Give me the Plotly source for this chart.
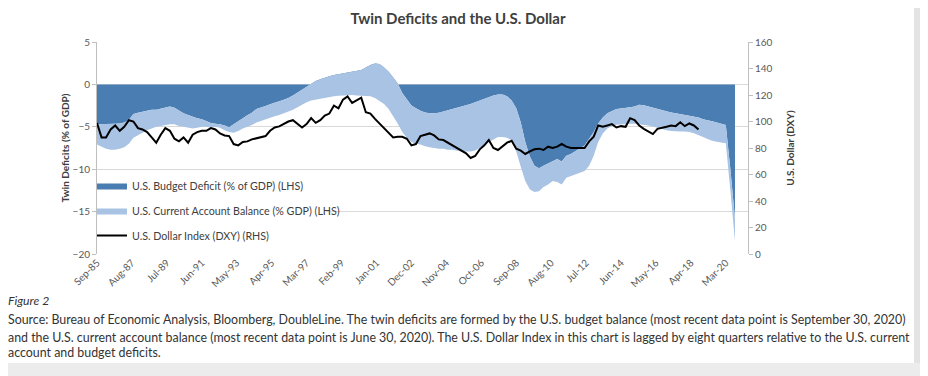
import pandas as pd
import plotly.graph_objects as go

# ---------------- data (quarterly, starting Sep-85) ----------------
start_quarter = "1985-09-01"

budget_balance = [
    -4.7, -4.7, -4.7, -4.65, -4.65, -4.6, -4.5, -4.2, -3.5, -3.35,
    -3.25, -3.1, -3.0, -3.0, -2.85, -2.7, -2.6, -2.75, -3.05, -3.4,
    -3.6, -3.8, -4.0, -4.1, -4.35, -4.55, -4.65, -4.7, -4.85, -5.05,
    -4.7, -4.3, -4.0, -3.65, -3.35, -2.9, -2.75, -2.55, -2.35, -2.2,
    -2.0, -1.8, -1.6, -1.3, -0.95, -0.6, -0.2, 0.1, 0.4, 0.6,
    0.8, 0.95, 1.1, 1.2, 1.3, 1.35, 1.45, 1.55, 1.7, 2.0,
    2.3, 2.45, 2.4, 2.0, 1.5, 0.8, 0.1, -1.0, -1.8, -2.5,
    -2.8, -3.1, -3.3, -3.4, -3.4, -3.35, -3.2, -3.05, -2.95, -2.75,
    -2.6, -2.45, -2.3, -2.1, -1.9, -1.7, -1.5, -1.3, -1.2, -1.2,
    -1.4, -1.9, -2.8, -4.5, -6.8, -8.5, -9.6, -9.9, -9.6, -9.3,
    -9.0, -8.8, -9.1, -8.4, -8.2, -7.9, -7.6, -7.2, -6.4, -5.6,
    -4.6, -3.9, -3.4, -3.1, -2.9, -2.85, -2.8, -2.7, -2.6, -2.4,
    -2.45, -2.6, -2.75, -2.9, -3.05, -3.2, -3.3, -3.4, -3.5, -3.55,
    -3.65, -3.75, -3.9, -4.1, -4.2, -4.35, -4.5, -4.65, -4.8, -10.0,
    -15.8,
]

current_account = [
    -2.4, -2.7, -2.9, -3.05, -3.05, -3.0, -2.9, -2.8, -2.8, -2.65,
    -2.45, -2.3, -2.2, -2.0, -2.05, -2.1, -2.1, -1.95, -1.85, -1.6,
    -1.5, -1.4, -1.1, -0.9, -0.65, -0.55, -0.35, -0.4, -0.55, -0.55,
    -1.0, -1.2, -1.2, -1.35, -1.45, -1.6, -1.55, -1.55, -1.55, -1.55,
    -1.6, -1.6, -1.6, -1.7, -1.75, -1.8, -1.9, -2.0, -2.2, -2.25,
    -2.35, -2.4, -2.5, -2.55, -2.6, -2.6, -2.7, -2.85, -3.05, -3.4,
    -3.7, -4.05, -4.3, -4.3, -4.4, -4.5, -4.7, -4.6, -4.5, -4.3,
    -4.2, -4.0, -4.0, -4.0, -4.1, -4.25, -4.4, -4.65, -4.75, -5.05,
    -5.3, -5.45, -5.6, -5.7, -5.6, -5.4, -5.3, -5.2, -5.0, -5.0,
    -4.9, -4.7, -5.1, -5.2, -4.6, -3.9, -3.1, -2.7, -2.5, -2.5,
    -2.4, -2.7, -2.7, -2.6, -2.6, -2.7, -2.8, -3.0, -3.2, -2.8,
    -2.2, -1.9, -1.8, -1.8, -1.85, -1.85, -1.85, -1.95, -2.05, -2.3,
    -2.3, -2.25, -2.2, -2.2, -2.25, -2.2, -2.2, -2.15, -2.05, -2.0,
    -1.95, -2.0, -2.05, -2.1, -2.25, -2.3, -2.25, -2.2, -2.15, -2.5,
    -2.7,
]

dollar_index = [
    98.9, 88, 88, 94, 97, 93, 96, 101, 100, 95,
    94, 92, 88, 84, 90, 95, 93, 87, 85, 88,
    84, 90, 92, 93, 93, 95, 94, 91, 89.5, 89,
    83, 82, 84.5, 85, 86.5, 87.5, 88, 89, 93, 95.5,
    96.3, 98, 100, 101, 98, 95.5, 98, 102.6, 99, 101,
    104.5, 106, 112, 110, 116.5, 119, 114, 116, 118, 107,
    106, 102, 98.5, 95, 92, 88, 88.5, 88.5, 87, 82,
    83, 89, 90, 91, 89.5, 86.5, 86, 84, 82.5, 80,
    78, 76, 72.5, 74, 79, 82, 86, 80, 78.5, 81,
    84, 85.5, 79.5, 78, 75.5, 77.5, 79, 79.5, 78.5, 81,
    80, 81, 83, 81, 80, 80, 80, 80, 85, 88.5,
    97, 96, 97, 98, 95.5, 96.5, 96, 102.5, 101, 97,
    94.5, 92.5, 90.5, 94.5, 95, 96, 97, 96.5, 99.4, 96.5,
    98.5, 97, 94,
]

x_tick_labels = [
    "Sep-85", "Aug-87", "Jul-89", "Jun-91", "May-93", "Apr-95", "Mar-97",
    "Feb-99", "Jan-01", "Dec-02", "Nov-04", "Oct-06", "Sep-08", "Aug-10",
    "Jul-12", "Jun-14", "May-16", "Apr-18", "Mar-20",
]

series_names = [
    "U.S. Budget Deficit (% of GDP) (LHS)",
    "U.S. Current Account Balance (% GDP) (LHS)",
    "U.S. Dollar Index (DXY) (RHS)",
]

caption_lines = [
    "Source: Bureau of Economic Analysis, Bloomberg, DoubleLine. The twin deficits are formed by the U.S. budget balance (most recent data point is September 30, 2020)",
    "and the U.S. current account balance (most recent data point is June 30, 2020). The U.S. Dollar Index in this chart is lagged by eight quarters relative to the U.S. current",
    "account and budget deficits.",
]

# ---------------- build ----------------
dates = pd.date_range(start_quarter, periods=len(budget_balance), freq="3MS")
dxy_dates = dates[: len(dollar_index)]
tickvals = [pd.to_datetime(t, format="%b-%y") for t in x_tick_labels]

DARK = "#4a7db1"
LIGHT = "#a8c3e3"
FONT = "Lato, 'Open Sans', sans-serif"
TXT = "#404040"

# plot area in page pixels (page has an 8px body margin)
PX0, PX1, PY0, PY1 = 97, 748, 42, 254
PW, PH = PX1 - PX0, PY1 - PY0


def px(x):
    return (x - PX0) / PW


def py(y):
    return (PY1 - y) / PH


fig = go.Figure()
fig.add_trace(go.Scatter(
    x=dates, y=budget_balance, name=series_names[0], stackgroup="def",
    mode="lines", line=dict(width=0, color=DARK), fillcolor=DARK,
    legendgroup="a", hoverinfo="skip"))
fig.add_trace(go.Scatter(
    x=dates, y=current_account, name=series_names[1], stackgroup="def",
    mode="lines", line=dict(width=0, color=LIGHT), fillcolor=LIGHT,
    legendgroup="b", hoverinfo="skip"))
fig.add_trace(go.Scatter(
    x=dxy_dates, y=dollar_index, name=series_names[2], yaxis="y2",
    mode="lines", line=dict(width=2, color="black"),
    legendgroup="c", hoverinfo="skip"))

axis_font = dict(family=FONT, size=10, color="#595959")

fig.update_layout(
    width=920, height=368,
    margin=dict(l=PX0 - 8, r=920 - (PX1 - 8), t=PY0 - 8, b=368 - (PY1 - 8)),
    paper_bgcolor="white", plot_bgcolor="white",
    font=dict(family=FONT, color=TXT),
    showlegend=True,
    title=dict(text="<b>Twin Deficits and the U.S. Dollar</b>",
               x=(458 - 8) / 920, xanchor="center",
               y=1 - (19 - 8) / 368, yanchor="middle",
               font=dict(family=FONT, size=15, color=TXT)),
    xaxis=dict(
        type="date", range=[dates[0], pd.Timestamp("2021-05-20")],
        tickvals=tickvals, ticktext=x_tick_labels, tickangle=-45,
        tickfont=axis_font, showgrid=False, zeroline=False,
        showline=False, ticks=""),
    yaxis=dict(
        range=[-20, 5], dtick=5, tick0=0, tickfont=axis_font,
        showgrid=True, gridcolor="#d9d9d9", gridwidth=1, zeroline=False,
        showline=True, linecolor="#bfbfbf", ticks="outside", ticklen=4,
        tickcolor="#bfbfbf",
        title=dict(text="<b>Twin Deficits (% of GDP)</b>", standoff=1,
                   font=dict(family=FONT, size=10, color=TXT))),
    yaxis2=dict(
        range=[0, 160], dtick=20, overlaying="y", side="right",
        tickfont=axis_font, showgrid=False, zeroline=False,
        showline=True, linecolor="#bfbfbf", ticks="outside", ticklen=4,
        tickcolor="#bfbfbf",
        title=dict(text="<b>U.S. Dollar (DXY)</b>", standoff=15,
                   font=dict(family=FONT, size=10, color=TXT))),
    legend=dict(
        x=px(92), y=py(171), xanchor="left", yanchor="top",
        bgcolor="rgba(0,0,0,0)", traceorder="grouped", tracegroupgap=6,
        font=dict(family=FONT, size=10.7, color=TXT),
        itemwidth=30),
)

# white box behind legend (hides gridlines like the original)
fig.add_shape(type="rect", xref="paper", yref="paper",
              x0=px(112), x1=px(326), y0=py(174), y1=py(246),
              fillcolor="white", line=dict(width=0), layer="above")

# caption
fig.add_annotation(text="<i>Figure 2</i>", xref="paper", yref="paper",
                   x=px(6), y=py(300), xanchor="left",
                   yanchor="middle", showarrow=False,
                   font=dict(family=FONT, size=12.2, color="#333333"))
cap_y = [319, 337, 352]
for line, yy in zip(caption_lines, cap_y):
    fig.add_annotation(text=line, xref="paper", yref="paper",
                       x=px(6), y=py(yy), xanchor="left",
                       yanchor="middle", showarrow=False,
                       font=dict(family=FONT, size=12.4, color="#333333"))

# panel shadow
fig.add_shape(type="rect", xref="paper", yref="paper",
              x0=px(914), x1=px(940), y0=py(0), y1=py(376),
              fillcolor="#e3e3e3", line=dict(width=0), layer="below")
fig.add_shape(type="rect", xref="paper", yref="paper",
              x0=px(0), x1=px(940), y0=py(363), y1=py(380),
              fillcolor="#ececec", line=dict(width=0), layer="below")

fig.write_html("out.html")
